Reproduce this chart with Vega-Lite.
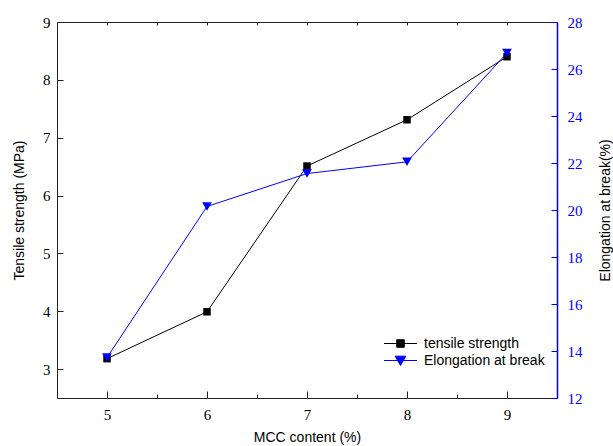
{
  "$schema": "https://vega.github.io/schema/vega-lite/v6.json",
  "width": 500,
  "height": 376,
  "autosize": {"type": "none"},
  "padding": {"left": 57, "top": 22, "right": 56, "bottom": 48},
  "background": "white",
  "config": {
    "view": {"stroke": null},
    "axis": {
      "labelFont": "Liberation Serif",
      "labelFontSize": 15,
      "labelColor": "black",
      "titleFont": "Liberation Sans",
      "titleFontSize": 14,
      "titleFontWeight": "normal",
      "titleColor": "black",
      "domainColor": "#222222",
      "tickColor": "#222222",
      "grid": false
    },
    "legend": {"labelFont": "Liberation Sans", "labelFontSize": 14, "labelColor": "black"}
  },
  "data": {
    "values": [
      {"mcc": 5, "ts": 3.18, "el": 13.72},
      {"mcc": 6, "ts": 3.99, "el": 20.15},
      {"mcc": 7, "ts": 6.51, "el": 21.55},
      {"mcc": 8, "ts": 7.31, "el": 22.05},
      {"mcc": 9, "ts": 8.4, "el": 26.68}
    ]
  },
  "layer": [
    {
      "layer": [
        {
          "mark": {"type": "line", "color": "black", "strokeWidth": 1},
          "encoding": {
            "x": {
              "field": "mcc", "type": "quantitative",
              "scale": {"domain": [4.5, 9.5], "nice": false, "zero": false},
              "axis": {
                "orient": "bottom",
                "title": "MCC content (%)",
                "values": [5, 5.5, 6, 6.5, 7, 7.5, 8, 8.5, 9],
                "labelExpr": "datum.value % 1 === 0 ? format(datum.value, 'd') : ''",
                "labelFont": "Liberation Serif",
                "tickSize": {"condition": {"test": "datum.value % 1 === 0", "value": -7}, "value": -4},
                "labelPadding": 16,
                "titlePadding": 8,
                "labelFlush": false
              }
            },
            "y": {
              "field": "ts", "type": "quantitative",
              "scale": {"domain": [2.5, 9], "nice": false, "zero": false},
              "axis": {
                "orient": "left",
                "title": "Tensile strength (MPa)",
                "values": [3, 3.5, 4, 4.5, 5, 5.5, 6, 6.5, 7, 7.5, 8, 8.5, 9],
                "labelExpr": "datum.value % 1 === 0 ? format(datum.value, 'd') : ''",
                "labelFont": "Liberation Serif",
                "tickSize": {"condition": {"test": "datum.value % 1 === 0", "value": -6}, "value": -3.5},
                "labelPadding": 13,
                "titlePadding": 16,
                "labelFlush": false
              }
            }
          }
        },
        {
          "mark": {"type": "point", "shape": "square", "filled": true, "color": "black", "size": 56, "opacity": 1},
          "encoding": {
            "x": {"field": "mcc", "type": "quantitative"},
            "y": {"field": "ts", "type": "quantitative"}
          }
        },
        {
          "data": {
            "values": [
              {"s": "tensile strength", "mcc": 5, "ts": 3.18},
              {"s": "Elongation at break", "mcc": 5, "ts": 3.18}
            ]
          },
          "mark": {"type": "point", "filled": true, "opacity": 0, "strokeWidth": 1},
          "encoding": {
            "x": {"field": "mcc", "type": "quantitative"},
            "y": {"field": "ts", "type": "quantitative"},
            "shape": {
              "field": "s", "type": "nominal",
              "scale": {
                "domain": ["tensile strength", "Elongation at break"],
                "range": ["M-1.83,0H1.83M-0.42,-0.42H0.42V0.42H-0.42Z", "M-1.83,0H1.83M-0.6,-0.48H0.6L0,0.55Z"]
              },
              "legend": {
                "title": null, "orient": "none", "legendX": 334, "legendY": 312,
                "symbolSize": 324, "symbolStrokeWidth": 1, "labelOffset": 14, "rowPadding": 0, "padding": 0, "symbolOpacity": 1
              }
            },
            "fill": {
              "field": "s", "type": "nominal",
              "scale": {"domain": ["tensile strength", "Elongation at break"], "range": ["black", "blue"]},
              "legend": {
                "title": null, "orient": "none", "legendX": 334, "legendY": 312,
                "symbolSize": 324, "symbolStrokeWidth": 1, "labelOffset": 14, "rowPadding": 0, "padding": 0, "symbolOpacity": 1
              }
            },
            "stroke": {
              "field": "s", "type": "nominal",
              "scale": {"domain": ["tensile strength", "Elongation at break"], "range": ["black", "blue"]},
              "legend": {
                "title": null, "orient": "none", "legendX": 334, "legendY": 312,
                "symbolSize": 324, "symbolStrokeWidth": 1, "labelOffset": 14, "rowPadding": 0, "padding": 0, "symbolOpacity": 1
              }
            }
          }
        }
      ]
    },
    {
      "layer": [
        {
          "mark": {"type": "line", "color": "blue", "strokeWidth": 1},
          "encoding": {
            "x": {
              "field": "mcc", "type": "quantitative",
              "axis": {
                "orient": "top",
                "title": null,
                "labels": false,
                "values": [5, 5.5, 6, 6.5, 7, 7.5, 8, 8.5, 9],
                "tickSize": -3
              }
            },
            "y": {
              "field": "el", "type": "quantitative",
              "scale": {"domain": [12, 28], "nice": false, "zero": false},
              "axis": {
                "orient": "right",
                "title": "Elongation at break(%)",
                "titleAngle": -90,
                "titleBaseline": "top",
                "values": [12, 13, 14, 15, 16, 17, 18, 19, 20, 21, 22, 23, 24, 25, 26, 27, 28],
                "labelExpr": "datum.value % 2 === 0 ? format(datum.value, 'd') : ''",
                "labelFont": "Liberation Serif",
                "tickSize": {"condition": {"test": "datum.value % 2 === 0", "value": -6}, "value": -3.5},
                "labelPadding": 16,
                "titlePadding": 16,
                "labelFlush": false,
                "domainColor": "blue",
                "tickColor": "blue",
                "labelColor": "blue",
                "domainWidth": 1.5
              }
            }
          }
        },
        {
          "mark": {"type": "point", "shape": "triangle-down", "filled": true, "color": "blue", "size": 95, "opacity": 1},
          "encoding": {
            "x": {"field": "mcc", "type": "quantitative"},
            "y": {"field": "el", "type": "quantitative"}
          }
        }
      ]
    }
  ],
  "resolve": {"scale": {"y": "independent"}}
}
